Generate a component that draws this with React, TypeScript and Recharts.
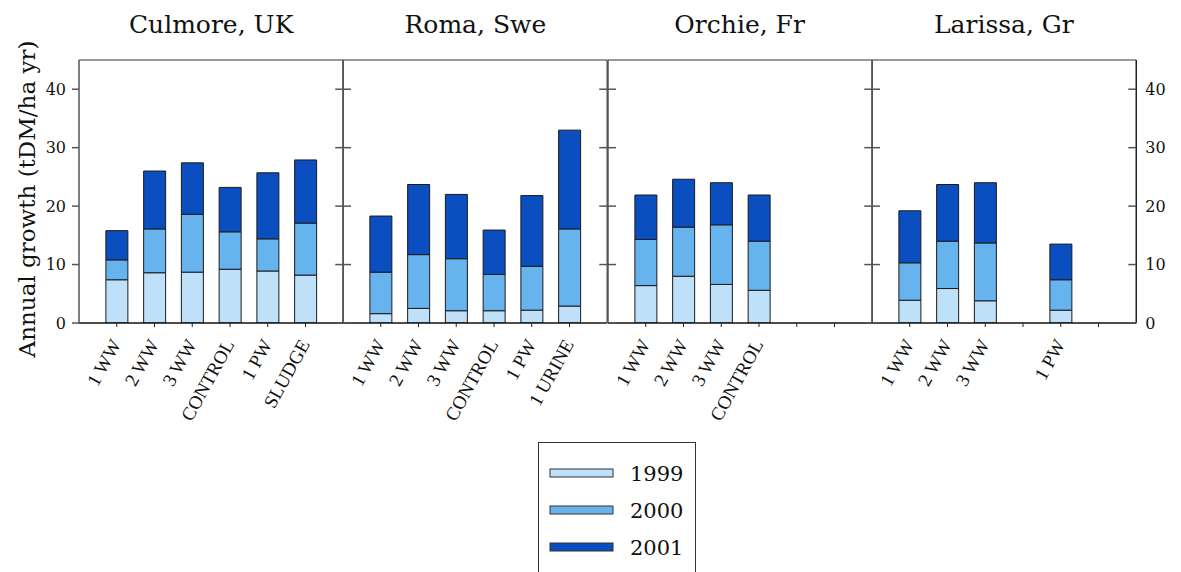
import React from 'react';
import { BarChart, Bar, XAxis, YAxis } from 'recharts';

// Series (stacked growth per year)
const years = ['1999', '2000', '2001'];
const yearColors = ['#bee0f8', '#67b3ee', '#0a4ebf'];

// Sites, one panel each
const sites = ['Culmore, UK', 'Roma, Swe', 'Orchie, Fr', 'Larissa, Gr'];

// Treatments per site (blank names keep empty slots on the axis)
const culmoreTreatments = ['1 WW', '2 WW', '3 WW', 'CONTROL', '1 PW', 'SLUDGE'];
const romaTreatments = ['1 WW', '2 WW', '3 WW', 'CONTROL', '1 PW', '1 URINE'];
const orchieTreatments = ['1 WW', '2 WW', '3 WW', 'CONTROL', '', ' '];
const larissaTreatments = ['1 WW', '2 WW', '3 WW', '', '1 PW', ' '];

// Annual growth (tDM/ha yr) contributed by each year
const culmore1999 = [7.4, 8.6, 8.7, 9.2, 8.9, 8.2];
const culmore2000 = [3.4, 7.5, 9.9, 6.4, 5.5, 8.9];
const culmore2001 = [5.0, 9.9, 8.8, 7.6, 11.3, 10.8];

const roma1999 = [1.6, 2.5, 2.1, 2.1, 2.2, 2.9];
const roma2000 = [7.1, 9.2, 8.9, 6.2, 7.5, 13.2];
const roma2001 = [9.6, 12.0, 11.0, 7.6, 12.1, 16.9];

const orchie1999 = [6.4, 8.0, 6.6, 5.6, null, null];
const orchie2000 = [7.9, 8.4, 10.2, 8.4, null, null];
const orchie2001 = [7.6, 8.2, 7.2, 7.9, null, null];

const larissa1999 = [3.9, 5.9, 3.8, null, 2.2, null];
const larissa2000 = [6.4, 8.1, 9.9, null, 5.2, null];
const larissa2001 = [8.9, 9.7, 10.3, null, 6.1, null];

const yTicks = [0, 10, 20, 30, 40];
const yDomain = [0, 45];

type Row = { name: string; y1999: number | null; y2000: number | null; y2001: number | null };

const buildRows = (
  names: string[],
  a: (number | null)[],
  b: (number | null)[],
  c: (number | null)[]
): Row[] => names.map((name, i) => ({ name, y1999: a[i], y2000: b[i], y2001: c[i] }));

const panels = [
  buildRows(culmoreTreatments, culmore1999, culmore2000, culmore2001),
  buildRows(romaTreatments, roma1999, roma2000, roma2001),
  buildRows(orchieTreatments, orchie1999, orchie2000, orchie2001),
  buildRows(larissaTreatments, larissa1999, larissa2000, larissa2001),
];

const seriesKeys = ['y1999', 'y2000', 'y2001'];

// Layout
const PLOT_LEFT = 79;
const PANEL_W = 264.25;
const PLOT_TOP = 60;
const PLOT_BOTTOM = 323;
const CHART_H = 440;
const SIDE_W = 40;
const BAND = PANEL_W / 7;

const serif = '"DejaVu Serif", serif';
const labelSerif = '"Liberation Serif", "Times New Roman", serif';
const frameColor = '#555';

const XTick = (props: any) => {
  const { x, y, payload } = props;
  const label = String(payload.value);
  const tx = x + 5;
  const ty = y + 21;
  return (
    <g>
      <line x1={x} x2={x} y1={y} y2={y + 4} stroke="#222" strokeWidth={1} />
      {label.trim() !== '' && (
        <text
          x={tx}
          y={ty}
          transform={`rotate(-61 ${tx} ${ty})`}
          textAnchor="end"
          fontFamily={labelSerif}
          fontSize={19}
          fill="#111"
        >
          {label}
        </text>
      )}
    </g>
  );
};

const makeLeftTick = (outer: boolean) => (props: any) => {
  const { x, y, payload } = props;
  return (
    <g>
      {outer ? (
        <line x1={x - 7} x2={x} y1={y} y2={y} stroke={frameColor} strokeWidth={1.5} />
      ) : (
        <line x1={x} x2={x + 8} y1={y} y2={y} stroke={frameColor} strokeWidth={1.5} />
      )}
      {outer && (
        <text x={x - 13} y={y} dy="0.36em" textAnchor="end" fontFamily={serif} fontSize={16} fill="#111">
          {payload.value}
        </text>
      )}
    </g>
  );
};

const makeRightTick = (outer: boolean) => (props: any) => {
  const { x, y, payload } = props;
  return (
    <g>
      <line x1={x - 8} x2={x} y1={y} y2={y} stroke={frameColor} strokeWidth={1.5} />
      {outer && (
        <text x={x + 9} y={y} dy="0.36em" textAnchor="start" fontFamily={serif} fontSize={16} fill="#111">
          {payload.value}
        </text>
      )}
    </g>
  );
};

const Panel = ({ data, index }: { data: Row[]; index: number }) => {
  const first = index === 0;
  const last = index === panels.length - 1;
  const leftW = first ? PLOT_LEFT : SIDE_W;
  const plotX = PLOT_LEFT + index * PANEL_W;
  const width = leftW + PANEL_W + SIDE_W;
  return (
    <div style={{ position: 'absolute', left: plotX - leftW, top: 0, width, height: CHART_H }}>
      <BarChart
        width={width}
        height={CHART_H}
        data={data}
        margin={{ top: PLOT_TOP - 1, right: 0, bottom: 0, left: 0 }}
        barCategoryGap={0}
      >
        <XAxis
          dataKey="name"
          height={CHART_H - PLOT_BOTTOM}
          padding={{ left: BAND / 2, right: BAND / 2 }}
          interval={0}
          tickLine={false}
          tickSize={0}
          tickMargin={0}
          tick={XTick}
          axisLine={{ stroke: '#111', strokeWidth: 1.5 }}
        />
        <XAxis
          xAxisId="top"
          dataKey="name"
          orientation="top"
          height={1}
          tick={false}
          tickLine={false}
          padding={{ left: BAND / 2, right: BAND / 2 }}
          axisLine={{ stroke: '#777', strokeWidth: 1.5 }}
        />
        <YAxis
          yAxisId="left"
          orientation="left"
          width={leftW}
          domain={yDomain}
          ticks={yTicks}
          allowDataOverflow
          tickLine={false}
          tickSize={0}
          tickMargin={0}
          tick={makeLeftTick(first)}
          axisLine={{ stroke: frameColor, strokeWidth: 1.5 }}
        />
        <YAxis
          yAxisId="right"
          orientation="right"
          width={SIDE_W}
          domain={yDomain}
          ticks={yTicks}
          allowDataOverflow
          tickLine={false}
          tickSize={0}
          tickMargin={0}
          tick={makeRightTick(last)}
          axisLine={{ stroke: last ? '#222' : frameColor, strokeWidth: 1.5 }}
        />
        {seriesKeys.map((key, i) => (
          <Bar
            key={key}
            dataKey={key}
            name={years[i]}
            stackId="growth"
            yAxisId="left"
            barSize={22}
            fill={yearColors[i]}
            stroke="#1b1b1b"
            strokeWidth={1}
            isAnimationActive={false}
          />
        ))}
      </BarChart>
    </div>
  );
};

const Legend = () => (
  <div
    style={{
      position: 'absolute',
      left: 538,
      top: 442,
      width: 158,
      height: 150,
      border: '1px solid #333',
      boxSizing: 'border-box',
      background: '#fff',
    }}
  >
    <svg width={156} height={148}>
      {years.map((yr, i) => {
        const cy = 30 + i * 37;
        return (
          <g key={yr}>
            <rect x={11} y={cy - 4} width={63} height={8} fill={yearColors[i]} stroke="#333" strokeWidth={1} />
            <text x={91} y={cy} dy="0.36em" fontFamily={serif} fontSize={21} fill="#111">
              {yr}
            </text>
          </g>
        );
      })}
    </svg>
  </div>
);

export default function App() {
  return (
    <div
      style={{
        position: 'absolute',
        left: 0,
        top: 0,
        width: 1181,
        height: 572,
        background: '#fff',
        overflow: 'hidden',
        fontFamily: serif,
      }}
    >
      {panels.map((data, i) => (
        <Panel key={sites[i]} data={data} index={i} />
      ))}
      <svg style={{ position: 'absolute', left: 0, top: 0 }} width={1181} height={58}>
        {sites.map((site, i) => (
          <text
            key={site}
            x={PLOT_LEFT + (i + 0.5) * PANEL_W}
            y={33}
            textAnchor="middle"
            fontFamily={serif}
            fontSize={25}
            fill="#111"
          >
            {site}
          </text>
        ))}
      </svg>
      <svg style={{ position: 'absolute', left: 0, top: 0 }} width={60} height={400}>
        <text
          x={27}
          y={199}
          transform="rotate(-90 27 199)"
          textAnchor="middle"
          dy="0.36em"
          fontFamily={serif}
          fontSize={23}
          fill="#111"
        >
          Annual growth (tDM/ha yr)
        </text>
      </svg>
      <Legend />
    </div>
  );
}
